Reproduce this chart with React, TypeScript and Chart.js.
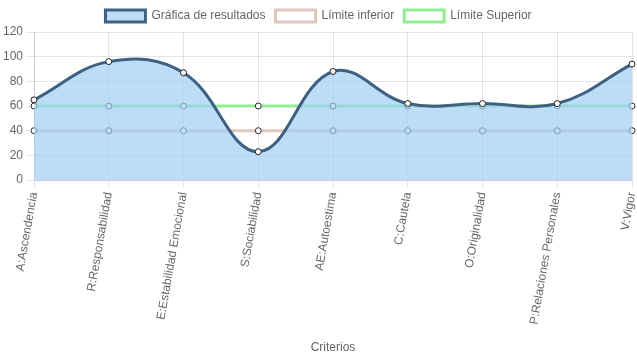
import React, { useEffect, useRef } from "react";
import { Chart, registerables } from "chart.js";
Chart.register(...registerables);

const categories = [
  "A:Ascendencia",
  "R:Responsabilidad",
  "E:Estabilidad Emocional",
  "S:Sociabilidad",
  "AE:Autoestima",
  "C:Cautela",
  "O:Originalidad",
  "P:Relaciones Personales",
  "V:Vigor",
];
const resultados = [65, 96, 87, 23, 88, 62, 62, 62, 94];
const limiteInferior = [40, 40, 40, 40, 40, 40, 40, 40, 40];
const limiteSuperior = [60, 60, 60, 60, 60, 60, 60, 60, 60];
const yTicks = { min: 0, max: 120, step: 20 };

export default function App() {
  const ref = useRef<HTMLCanvasElement | null>(null);
  useEffect(() => {
    if (!ref.current) return;
    const chart = new Chart(ref.current, {
      type: "line",
      data: {
        labels: categories,
        datasets: [
          {
            label: "Gráfica de resultados",
            data: resultados,
            borderColor: "rgba(62,96,130,1)",
            backgroundColor: "rgba(160,205,245,0.7)",
            borderWidth: 3,
            fill: "origin",
            tension: 0.4,
            pointBackgroundColor: "#ffffff",
            pointBorderColor: "rgba(30,30,30,1)",
            pointBorderWidth: 1,
            pointRadius: 3,
          },
          {
            label: "Límite inferior",
            data: limiteInferior,
            borderColor: "rgba(225,200,190,1)",
            backgroundColor: "rgba(255,255,255,1)",
            borderWidth: 3,
            fill: false,
            pointBackgroundColor: "#ffffff",
            pointBorderColor: "rgba(40,40,40,1)",
            pointBorderWidth: 1,
            pointRadius: 3,
          },
          {
            label: "Límite Superior",
            data: limiteSuperior,
            borderColor: "rgba(144,238,144,1)",
            backgroundColor: "rgba(255,255,255,1)",
            borderWidth: 3,
            fill: false,
            pointBackgroundColor: "#ffffff",
            pointBorderColor: "rgba(40,40,40,1)",
            pointBorderWidth: 1,
            pointRadius: 3,
          },
        ],
      },
      options: {
        animation: false,
        responsive: true,
        maintainAspectRatio: false,
        plugins: {
          legend: { position: "top", labels: { color: "#666", font: { size: 12 } } },
          tooltip: { enabled: false },
        },
        scales: {
          x: {
            title: { display: true, text: "Criterios", color: "#666", font: { size: 12 } },
            ticks: { color: "#666", maxRotation: 80, minRotation: 80, autoSkip: false, font: { size: 12 } },
            grid: { color: "rgba(0,0,0,0.1)" },
            afterFit: (scale: any) => {
              scale.paddingRight = 1;
              scale.height += 8;
            },
          },
          y: {
            min: yTicks.min,
            max: yTicks.max,
            ticks: { stepSize: yTicks.step, color: "#666", font: { size: 12 } },
            grid: { color: "rgba(0,0,0,0.1)" },
          },
        },
      },
    });
    return () => chart.destroy();
  }, []);
  return (
    <div style={{ position: "fixed", left: 0, top: 0, width: 637, height: 359, background: "#fff" }}>
      <canvas ref={ref} />
    </div>
  );
}
